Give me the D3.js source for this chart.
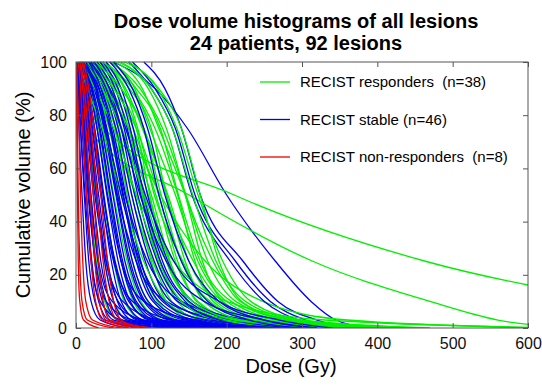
<!DOCTYPE html>
<html>
<head>
<meta charset="utf-8">
<script src="https://cdn.jsdelivr.net/npm/d3@7"></script>
<style>
  body { margin: 0; background: #fff; }
  svg { display: block; font-family: Arial, "Liberation Sans", sans-serif; }
</style>
</head>
<body>
<div id="chart"></div>
<script>
// each lesion: dose (Gy) at which the cumulative volume falls to each level below
const volumeLevels = [100, 90, 75, 50, 25, 10, 3, 0];

const responders = [
  [0, 1, 37, 210, 465, 720, 900, 1100],
  [0, 2, 15, 150, 315, 470, 560, 650],
  [20, 40, 70, 112, 172, 248, 360, 620],
  [10, 25, 45, 80, 130, 200, 330, 650],
  [2, 6, 11, 18, 27, 38, 55, 110],
  [3, 9, 16, 26, 38, 50, 70, 140],
  [5, 14, 24, 36, 50, 64, 88, 170],
  [6, 18, 30, 44, 60, 76, 100, 190],
  [8, 22, 35, 50, 68, 86, 115, 210],
  [10, 25, 40, 56, 75, 95, 125, 220],
  [12, 28, 44, 62, 82, 104, 135, 240],
  [14, 30, 52, 68, 86, 108, 145, 250],
  [16, 35, 53, 78, 100, 120, 155, 260],
  [18, 38, 57, 74, 102, 127, 165, 270],
  [20, 42, 61, 88, 112, 134, 175, 290],
  [22, 45, 70, 88, 108, 141, 185, 300],
  [24, 48, 66, 96, 124, 148, 195, 310],
  [26, 52, 80, 98, 120, 155, 205, 330],
  [28, 55, 76, 106, 132, 162, 215, 340],
  [30, 64, 82, 104, 142, 170, 225, 350],
  [33, 60, 90, 113, 140, 178, 235, 360],
  [36, 66, 88, 122, 150, 186, 245, 370],
  [40, 71, 100, 120, 156, 194, 255, 380],
  [44, 78, 98, 132, 162, 200, 265, 400],
  [48, 80, 112, 136, 165, 206, 275, 420],
  [52, 88, 110, 145, 175, 212, 285, 440],
  [56, 96, 120, 146, 182, 218, 290, 450],
  [60, 100, 128, 155, 186, 225, 295, 460],
  [64, 108, 134, 162, 195, 232, 300, 470],
  [4, 15, 35, 60, 90, 120, 170, 260],
  [8, 25, 50, 80, 110, 140, 190, 300],
  [15, 40, 70, 100, 125, 150, 200, 320],
  [20, 50, 80, 110, 135, 160, 210, 330],
  [25, 60, 90, 120, 145, 170, 220, 340],
  [35, 75, 105, 135, 158, 182, 235, 360],
  [45, 85, 115, 145, 168, 195, 250, 380],
  [70, 110, 140, 165, 190, 220, 280, 400],
  [12, 35, 60, 90, 120, 155, 215, 330]
];

const stable = [
  [50, 105, 148, 200, 265, 312, 345, 390],
  [90, 118, 140, 165, 222, 268, 320, 380],
  [75, 105, 132, 158, 212, 258, 305, 360],
  [70, 100, 128, 154, 205, 250, 295, 340],
  [0, 2, 4, 8, 13, 20, 32, 70],
  [0, 3, 6, 11, 17, 25, 38, 90],
  [1, 4, 8, 14, 21, 30, 44, 100],
  [1, 5, 10, 17, 25, 35, 50, 120],
  [2, 7, 12, 20, 29, 40, 56, 130],
  [2, 8, 14, 23, 33, 45, 62, 150],
  [3, 10, 17, 27, 38, 50, 68, 160],
  [4, 12, 19, 30, 42, 55, 75, 180],
  [5, 14, 22, 34, 47, 60, 82, 200],
  [6, 16, 25, 37, 51, 66, 90, 220],
  [7, 18, 28, 41, 56, 72, 98, 240],
  [8, 20, 31, 45, 60, 78, 105, 250],
  [10, 22, 34, 49, 65, 84, 115, 260],
  [12, 25, 37, 53, 70, 90, 125, 280],
  [14, 28, 41, 57, 75, 96, 135, 300],
  [16, 31, 45, 62, 80, 102, 145, 320],
  [18, 34, 49, 66, 86, 110, 160, 340],
  [20, 37, 53, 70, 92, 118, 175, 360],
  [22, 40, 56, 74, 98, 126, 190, 370],
  [25, 44, 60, 78, 104, 135, 205, 380],
  [3, 9, 15, 25, 40, 62, 110, 250],
  [5, 13, 21, 33, 50, 75, 130, 280],
  [8, 18, 28, 42, 60, 90, 160, 300],
  [2, 6, 11, 19, 30, 48, 90, 200],
  [10, 24, 38, 55, 80, 120, 200, 330],
  [15, 30, 46, 65, 95, 140, 230, 350],
  [28, 48, 64, 82, 108, 140, 200, 300],
  [32, 52, 68, 86, 112, 145, 190, 260],
  [36, 56, 72, 90, 115, 150, 210, 290],
  [40, 60, 76, 95, 122, 155, 220, 310],
  [12, 26, 40, 60, 85, 115, 170, 260],
  [6, 15, 24, 36, 52, 70, 100, 180],
  [4, 11, 18, 28, 40, 56, 85, 160],
  [9, 21, 32, 46, 62, 80, 110, 190],
  [13, 27, 39, 54, 72, 92, 130, 230],
  [17, 33, 47, 63, 83, 105, 150, 270],
  [20, 40, 60, 85, 120, 170, 250, 320],
  [24, 45, 66, 92, 130, 190, 270, 340],
  [1, 3, 6, 12, 20, 32, 60, 150],
  [2, 5, 9, 16, 26, 40, 75, 170],
  [45, 70, 90, 110, 140, 175, 230, 300],
  [50, 75, 95, 118, 150, 190, 250, 320]
];

const nonResponders = [
  [0, 0.5, 1, 2, 3, 5, 10, 30],
  [0, 1, 2, 3, 5, 8, 15, 50],
  [1, 2, 4, 6, 9, 13, 22, 60],
  [3, 6, 9, 14, 20, 26, 35, 70],
  [5, 9, 13, 19, 25, 31, 40, 80],
  [6, 11, 16, 23, 30, 36, 45, 100],
  [8, 14, 20, 28, 36, 44, 55, 100],
  [10, 17, 24, 33, 42, 50, 60, 85]
];

const groupLabels = ["RECIST responders  (n=38)", "RECIST stable (n=46)", "RECIST non-responders  (n=8)"];
const titleLines = ["Dose volume histograms of all lesions", "24 patients, 92 lesions"];
const xTicks = [0, 100, 200, 300, 400, 500, 600];
const yTicks = [0, 20, 40, 60, 80, 100];

const width = 542;
const height = 391;
const plot = { left: 76, right: 528, top: 62, bottom: 328 };
const colors = { green: "#00f000", blue: "#0000f0", red: "#f00000" };

const svg = d3
  .select("#chart")
  .append("svg")
  .attr("width", width)
  .attr("height", height);

const x = d3.scaleLinear().domain([0, 600]).range([plot.left, plot.right]);
const y = d3.scaleLinear().domain([0, 100]).range([plot.bottom, plot.top]);

svg
  .append("clipPath")
  .attr("id", "clip")
  .append("rect")
  .attr("x", plot.left)
  .attr("y", plot.top - 1)
  .attr("width", plot.right - plot.left)
  .attr("height", plot.bottom - plot.top + 1);

const line = d3
  .line()
  .x((p) => x(p[0]))
  .y((p) => y(p[1]))
  .curve(d3.curveMonotoneX);

const toPoints = (doses) => doses.map((d, i) => [d, volumeLevels[i]]);

// stable and responder curves are interleaved, red ones go on top
const curves = [];
for (let i = 0; i < Math.max(stable.length, responders.length); i++) {
  if (stable[i]) curves.push({ doses: stable[i], color: colors.blue });
  if (responders[i]) curves.push({ doses: responders[i], color: colors.green });
}
nonResponders.forEach((d) => curves.push({ doses: d, color: colors.red }));

svg
  .append("g")
  .attr("clip-path", "url(#clip)")
  .selectAll("path")
  .data(curves)
  .enter()
  .append("path")
  .attr("d", (c) => line(toPoints(c.doses)))
  .attr("fill", "none")
  .attr("stroke", (c) => c.color)
  .attr("stroke-width", 1.3);

// axes, ticks pointing inward like matlab
const axisStyle = (g) => {
  g.select(".domain").remove();
  g.selectAll(".tick line").attr("stroke", "#555");
  g.selectAll("text").attr("fill", "#111").style("font-size", "16px");
};

svg
  .append("g")
  .attr("transform", `translate(0, ${plot.bottom})`)
  .call(d3.axisBottom(x).tickValues(xTicks).tickSize(-5).tickPadding(10))
  .call(axisStyle);

svg
  .append("g")
  .attr("transform", `translate(0, ${plot.top})`)
  .call(d3.axisTop(x).tickValues(xTicks).tickSize(-5).tickFormat(""))
  .call(axisStyle);

svg
  .append("g")
  .attr("transform", `translate(${plot.left}, 0)`)
  .call(d3.axisLeft(y).tickValues(yTicks).tickSize(-5).tickPadding(9))
  .call(axisStyle);

svg
  .append("g")
  .attr("transform", `translate(${plot.right}, 0)`)
  .call(d3.axisRight(y).tickValues(yTicks).tickSize(-5).tickFormat(""))
  .call(axisStyle);

svg
  .append("rect")
  .attr("x", plot.left)
  .attr("y", plot.top)
  .attr("width", plot.right - plot.left)
  .attr("height", plot.bottom - plot.top)
  .attr("fill", "none")
  .attr("stroke", "#555")
  .attr("stroke-width", 1);

// titles and labels
svg
  .selectAll(".title")
  .data(titleLines)
  .enter()
  .append("text")
  .attr("class", "title")
  .attr("x", 296)
  .attr("y", (_, i) => 28 + i * 22)
  .attr("text-anchor", "middle")
  .style("font-size", "20px")
  .style("font-weight", "bold")
  .text((d) => d);

svg
  .append("text")
  .attr("x", (plot.left + plot.right) / 2 - 11)
  .attr("y", 373)
  .attr("text-anchor", "middle")
  .style("font-size", "20px")
  .text("Dose (Gy)");

svg
  .append("text")
  .attr("transform", `translate(30, ${(plot.top + plot.bottom) / 2}) rotate(-90)`)
  .attr("text-anchor", "middle")
  .style("font-size", "20px")
  .text("Cumulative volume (%)");

// legend, no box
const legend = svg
  .selectAll(".legend")
  .data(groupLabels)
  .enter()
  .append("g")
  .attr("class", "legend")
  .attr("transform", (_, i) => `translate(260, ${82 + i * 37.5})`);

legend
  .append("line")
  .attr("x1", 0)
  .attr("x2", 30)
  .attr("stroke", (_, i) => [colors.green, colors.blue, colors.red][i])
  .attr("stroke-width", 1.3);

legend
  .append("text")
  .attr("x", 40)
  .attr("dy", "0.35em")
  .style("font-size", "15px")
  .style("white-space", "pre")
  .text((d) => d);
</script>
</body>
</html>
